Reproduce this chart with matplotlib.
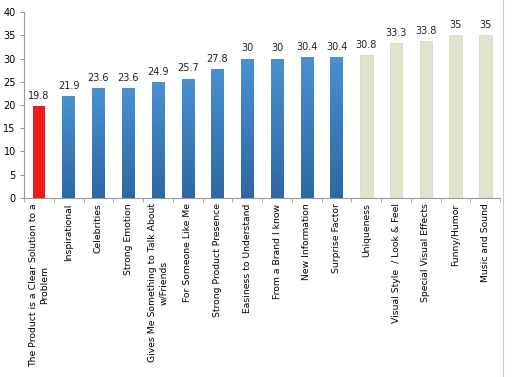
import numpy as np
import matplotlib.pyplot as plt
from matplotlib.colors import LinearSegmentedColormap

labels = ['The Product is a Clear Solution to a\nProblem', 'Inspirational', 'Celebrities',
          'Strong Emotion', 'Gives Me Something to Talk About\nw/Friends', 'For Someone Like Me',
          'Strong Product Presence', 'Easiness to Understand', 'From a Brand I know',
          'New Information', 'Surprise Factor', 'Uniqueness', 'Visual Style  / Look & Feel',
          'Special Visual Effects', 'Funny/Humor', 'Music and Sound']
values = [19.8, 21.9, 23.6, 23.6, 24.9, 25.7, 27.8, 30, 30, 30.4, 30.4, 30.8, 33.3, 33.8, 35, 35]
value_text = ['19.8', '21.9', '23.6', '23.6', '24.9', '25.7', '27.8', '30', '30', '30.4', '30.4',
              '30.8', '33.3', '33.8', '35', '35']
groups = ['red'] + ['blue'] * 10 + ['green'] * 5

colors = {'red': '#ec1c1c', 'blue': '#3b7ec0', 'green': '#dde6cd'}
blue_grad = LinearSegmentedColormap.from_list('bg', ['#2d68a2', '#4a90d2'])

fig = plt.figure(figsize=(5.13, 3.77), dpi=100)
ax = fig.add_axes([0.047, 0.475, 0.928, 0.493])

x = np.arange(len(values))
bars = ax.bar(x, values, width=0.42, color=[colors[g] for g in groups])

# gradient fill for the blue bars
grad = np.linspace(0, 1, 256).reshape(-1, 1)
for b, g in zip(bars, groups):
    if g == 'blue':
        x0, w, h = b.get_x(), b.get_width(), b.get_height()
        im = ax.imshow(grad, cmap=blue_grad, origin='lower', aspect='auto',
                       extent=[x0, x0 + w, 0, h], zorder=b.get_zorder() + 0.1)
        im.set_clip_path(b)
    elif g == 'green':
        b.set_edgecolor('#d3dcc2')
        b.set_linewidth(0.6)

for xi, v, t in zip(x, values, value_text):
    ax.text(xi, v + 1.1, t, ha='center', va='bottom', fontsize=7, color='#222222')

ax.set_xlim(-0.5, len(values) - 0.5)
ax.set_ylim(0, 40)
ax.set_yticks(range(0, 41, 5))
ax.tick_params(axis='y', labelsize=7, length=3, color='#999999', pad=3)

ax.set_xticks(x)
ax.set_xticklabels(labels, rotation=90, fontsize=6.7, ha='center', va='top',
                   multialignment='center')
ax.tick_params(axis='x', length=0, pad=4)
ax.set_xticks(np.arange(-0.5, len(values), 1), minor=True)
ax.tick_params(axis='x', which='minor', length=3, color='#999999')

for s in ['top', 'right']:
    ax.spines[s].set_visible(False)
for s in ['left', 'bottom']:
    ax.spines[s].set_color('#999999')
    ax.spines[s].set_linewidth(0.8)

fig.add_artist(plt.Line2D([0.981, 0.981], [0.0, 1.0], color='#cccccc', lw=0.8))

fig.savefig('out.png', dpi=100)
